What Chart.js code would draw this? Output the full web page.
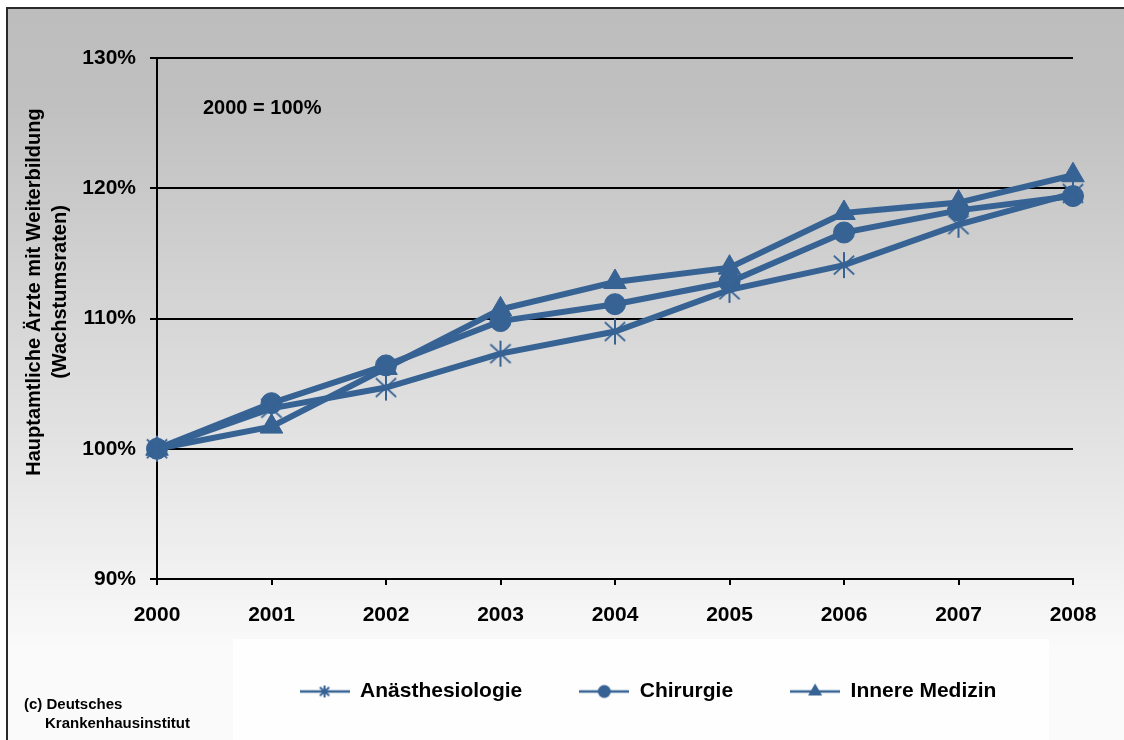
<!DOCTYPE html>
<html lang="de">
<head>
<meta charset="utf-8">
<script src="https://cdn.jsdelivr.net/npm/chart.js@4"></script>
<style>
  html, body { margin: 0; padding: 0; background: #fff; }
  canvas { display: block; }
</style>
</head>
<body>
<canvas id="myChart" width="1124" height="740"></canvas>
<script>
  // Jahre und Wachstumsraten (2000 = 100 %)
  const jahre = ['2000', '2001', '2002', '2003', '2004', '2005', '2006', '2007', '2008'];
  const anaesthesiologie = [100, 103.1, 104.7, 107.3, 109.0, 112.2, 114.1, 117.2, 119.6];
  const chirurgie = [100, 103.5, 106.4, 109.8, 111.1, 112.8, 116.6, 118.3, 119.4];
  const innereMedizin = [100, 101.7, 106.2, 110.7, 112.8, 113.9, 118.1, 118.9, 121.0];
  const serien = ['Anästhesiologie', 'Chirurgie', 'Innere Medizin'];
  const yTicks = [90, 100, 110, 120, 130];

  const BLAU = '#366294';
  const SCHRIFT = '"Liberation Sans", Arial, sans-serif';

  // Stern-Marker: senkrechter Strich und zwei Diagonalen
  function sternBild(groesse, breite) {
    const c = document.createElement('canvas');
    c.width = groesse; c.height = groesse;
    const g = c.getContext('2d');
    const m = groesse / 2, r = groesse / 2 - 1;
    g.strokeStyle = BLAU;
    g.lineWidth = breite;
    g.beginPath();
    g.moveTo(m, m - r); g.lineTo(m, m + r);
    g.moveTo(m - r * 0.78, m - r * 0.72); g.lineTo(m + r * 0.78, m + r * 0.72);
    g.moveTo(m - r * 0.78, m + r * 0.72); g.lineTo(m + r * 0.78, m - r * 0.72);
    g.stroke();
    return c;
  }

  // Legendensymbol: Linie mit Marker in der Mitte
  function legendenBild(art) {
    const c = document.createElement('canvas');
    c.width = 50; c.height = 22;
    const g = c.getContext('2d');
    g.strokeStyle = BLAU; g.fillStyle = BLAU; g.lineWidth = 2.5;
    g.beginPath(); g.moveTo(0, 11); g.lineTo(50, 11); g.stroke();
    if (art === 'stern') {
      g.drawImage(sternBild(14, 2), 18, 4);
    } else if (art === 'kreis') {
      g.beginPath(); g.arc(25, 11, 6.5, 0, Math.PI * 2); g.fill();
    } else {
      g.beginPath(); g.moveTo(25, 3); g.lineTo(32, 15); g.lineTo(18, 15); g.closePath(); g.fill();
    }
    return c;
  }

  const legendenSymbole = [legendenBild('stern'), legendenBild('kreis'), legendenBild('dreieck')];

  const data = {
    labels: jahre,
    datasets: [
      { label: serien[0], data: anaesthesiologie, pointStyle: sternBild(28, 2), pointRadius: 12 },
      { label: serien[1], data: chirurgie, pointStyle: 'circle', pointRadius: 10.5 },
      { label: serien[2], data: innereMedizin, pointStyle: 'triangle', pointRadius: 13 }
    ].map(ds => Object.assign(ds, {
      borderColor: BLAU,
      backgroundColor: BLAU,
      pointBackgroundColor: BLAU,
      pointBorderColor: BLAU,
      pointBorderWidth: 1,
      borderWidth: 6,
      tension: 0
    }))
  };

  // Hintergrund mit Verlauf und Rahmen oben/links
  const hintergrund = {
    id: 'hintergrund',
    beforeDraw(chart) {
      const ctx = chart.ctx;
      ctx.save();
      ctx.fillStyle = '#fff';
      ctx.fillRect(0, 0, chart.width, chart.height);
      const grad = ctx.createLinearGradient(0, 8, 0, 650);
      grad.addColorStop(0, '#bdbdbd');
      grad.addColorStop(0.15, '#c0c0c0');
      grad.addColorStop(0.68, '#e3e3e3');
      grad.addColorStop(1, '#fafafa');
      ctx.fillStyle = grad;
      ctx.fillRect(7, 8, chart.width - 7, chart.height - 8);
      ctx.fillStyle = '#fefefe';
      ctx.fillRect(233, 639, 816, chart.height - 639);
      ctx.strokeStyle = '#2a2a2a';
      ctx.lineWidth = 2;
      ctx.beginPath();
      ctx.moveTo(7, chart.height); ctx.lineTo(7, 8); ctx.lineTo(chart.width, 8);
      ctx.stroke();
      ctx.restore();
    },
    afterLayout(chart) {
      // Legende nach rechts unter die Zeichenfläche rücken
      chart.legend.left = 223;
    },
    afterDraw(chart) {
      const ctx = chart.ctx;
      ctx.save();
      ctx.fillStyle = '#000';
      ctx.textBaseline = 'middle';
      ctx.font = 'bold 20px ' + SCHRIFT;
      ctx.textAlign = 'left';
      ctx.fillText('2000 = 100%', 203, 108);
      // Achsentitel, zweizeilig gedreht
      ctx.save();
      ctx.translate(34, 292);
      ctx.rotate(-Math.PI / 2);
      ctx.textAlign = 'center';
      ctx.fillText('Hauptamtliche Ärzte mit Weiterbildung', 0, 0);
      ctx.fillText('(Wachstumsraten)', 0, 26);
      ctx.restore();
      ctx.font = 'bold 15px ' + SCHRIFT;
      ctx.fillText('(c) Deutsches', 24, 705);
      ctx.fillText('Krankenhausinstitut', 45, 724);
      ctx.restore();
    }
  };

  const config = {
    type: 'line',
    data,
    options: {
      responsive: false,
      animation: false,
      layout: { padding: { top: 58, right: 51, bottom: 28, left: 0 } },
      plugins: {
        legend: {
          position: 'bottom',
          labels: {
            usePointStyle: true,
            pointStyleWidth: 50,
            padding: 57,
            color: '#000',
            font: { family: SCHRIFT, size: 21, weight: 'bold' },
            generateLabels: chart => chart.data.datasets.map((ds, i) => ({
              text: ds.label,
              pointStyle: legendenSymbole[i],
              datasetIndex: i,
              hidden: false,
              lineWidth: 0,
              fillStyle: BLAU,
              strokeStyle: BLAU
            }))
          }
        },
        tooltip: { enabled: false }
      },
      scales: {
        x: {
          offset: false,
          grid: { drawOnChartArea: false, color: '#000', lineWidth: 2, tickLength: 6 },
          border: { color: '#000', width: 2 },
          ticks: { color: '#000', padding: 18, maxRotation: 0, font: { family: SCHRIFT, size: 21, weight: 'bold' } },
          afterFit: s => { s.height = 45; }
        },
        y: {
          min: 90,
          max: 130,
          afterBuildTicks: s => { s.ticks = yTicks.map(v => ({ value: v })); },
          grid: { color: '#000', lineWidth: 2, tickLength: 7 },
          border: { color: '#000', width: 2 },
          ticks: {
            color: '#000',
            padding: 14,
            font: { family: SCHRIFT, size: 21, weight: 'bold' },
            callback: v => v + '%'
          },
          afterFit: s => { s.width = 157; }
        }
      }
    },
    plugins: [hintergrund]
  };

  const myChart = new Chart(document.getElementById('myChart'), config);
</script>
</body>
</html>
